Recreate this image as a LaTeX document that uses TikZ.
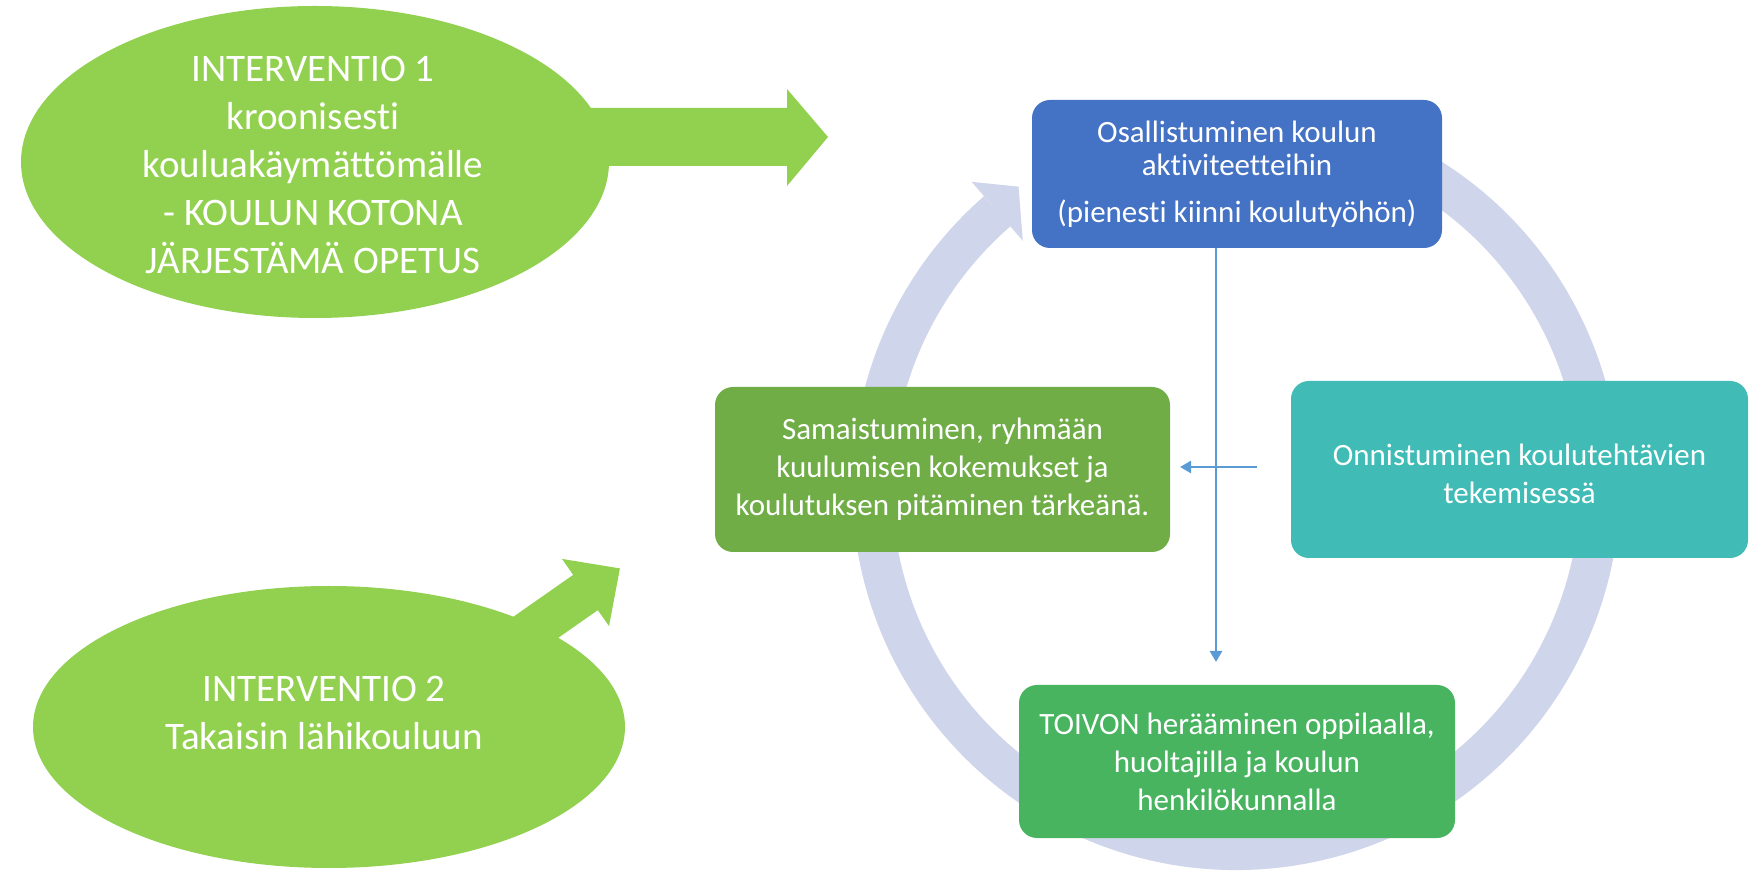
\documentclass[tikz,border=0pt]{standalone}
\usepackage{fontspec}
\setmainfont{Carlito}[RawFeature={-liga;-clig;-dlig}]
\usetikzlibrary{shapes.geometric,calc,arrows.meta}
\definecolor{lgreen}{RGB}{146,208,80}
\definecolor{ringcol}{RGB}{207,213,234}
\definecolor{bluebox}{RGB}{68,114,196}
\definecolor{olivebox}{RGB}{112,173,71}
\definecolor{tealbox}{RGB}{64,187,181}
\definecolor{greenbox}{RGB}{72,180,96}
\definecolor{lineblue}{RGB}{91,155,213}
\begin{document}
\begin{tikzpicture}[x=1pt,y=1pt,
  ell/.style={ellipse, fill=lgreen, inner sep=0pt},
  eltext/.style={text=white, align=center, inner sep=0pt, font=\fontsize{39}{48}\selectfont},
  box/.style={rounded corners=18pt, text=white, align=center, inner sep=0pt, font=\fontsize{31}{38}\selectfont},
  conn/.style={draw=lineblue, line width=2.5pt, -{Triangle[length=11pt,width=12pt]}},
  ringline/.style={draw=ringcol, line width=40pt},
  blockarrow/.style={fill=lgreen}]
\useasboundingbox (0,0) rectangle (1750,870);

% circular arrow
\coordinate (C) at (1236,384);
\draw[ringline] ($(C)+(66:364)$) arc[start angle=66, end angle=-229, radius=364];
\fill[ringcol] ($(C)+(131:325)$) -- ($(C)+(131:403)$) -- ($(C)+(126:370)$) -- cycle;

% block arrows
\fill[blockarrow] (480,762) -- (787,762) -- (787,781) -- (828,733) -- (787,684) -- (787,704) -- (480,704) -- cycle;
\begin{scope}[shift={(585.5,277.5)}, rotate=35]
  \fill[blockarrow] (-150,21.5) -- (0,21.5) -- (0,41) -- (42,0) -- (0,-41) -- (0,-21.5) -- (-150,-21.5) -- cycle;
\end{scope}

% ellipses
\node[ell, minimum width=588pt, minimum height=312pt] (e1) at (315,708) {};
\node[eltext] (e1t) at (313,705) {INTERVENTIO 1\\kroonisesti\\kouluakäymättömälle\\- KOULUN KOTONA\\JÄRJESTÄMÄ OPETUS};
\node[ell, minimum width=592pt, minimum height=282pt] (e2) at (329,143) {};
\node[eltext] (e2t) at (324,157) {INTERVENTIO 2\\Takaisin lähikouluun};

% boxes
\node[box, fill=bluebox, minimum width=410pt, minimum height=148pt, font=\fontsize{31}{33}\selectfont] (b1) at (1237,696) {Osallistuminen koulun\\aktiviteetteihin\\[14pt](pienesti kiinni koulutyöhön)};
\node[box, fill=olivebox, minimum width=455pt, minimum height=165pt] (b2) at (942.5,400.5) {Samaistuminen, ryhmään\\kuulumisen kokemukset ja\\koulutuksen pitäminen tärkeänä.};
\node[box, fill=tealbox, minimum width=457pt, minimum height=177pt] (b3) at (1519.5,400.5) {};
\node[box] (b3t) at (1519.5,396) {Onnistuminen koulutehtävien\\tekemisessä};
\node[box, fill=greenbox, minimum width=436pt, minimum height=153pt] (b4) at (1237,108.5) {TOIVON herääminen oppilaalla,\\huoltajilla ja koulun\\henkilökunnalla};

% connectors
\coordinate (vend) at (1216,208);
\draw[conn] (b1.south -| vend) -- (vend);
\coordinate (hs) at (1257,403);
\coordinate (he) at (1180,403);
\draw[conn] (hs) -- (he);
\end{tikzpicture}
\end{document}
